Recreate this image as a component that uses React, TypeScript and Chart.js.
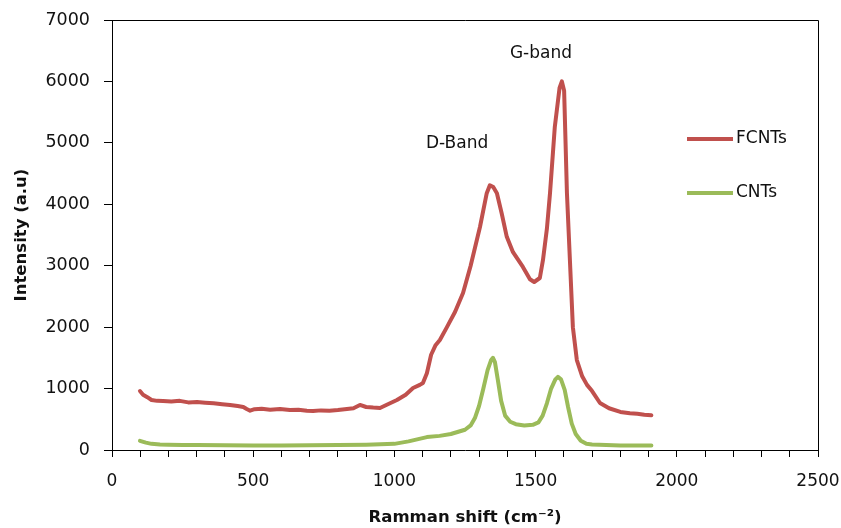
import React, { useEffect, useRef } from "react";
import { Chart, registerables } from "chart.js";

Chart.register(...registerables);

const fcntsX = [99, 110, 125, 140, 160, 181, 210, 240, 270, 301, 330, 360, 390, 418, 445, 465, 477, 489, 505, 530, 560, 595, 630, 660, 690, 712, 740, 770, 800, 832, 855, 878, 900, 925, 949, 975, 1009, 1040, 1066, 1090, 1101, 1115, 1130, 1145, 1161, 1186, 1215, 1243, 1270, 1303, 1327, 1338, 1350, 1363, 1380, 1398, 1420, 1455, 1480, 1495, 1515, 1526, 1540, 1551, 1568, 1585, 1593, 1601, 1611, 1632, 1646, 1665, 1682, 1700, 1728, 1760, 1800, 1834, 1860, 1885, 1910];
const fcntsY = [960, 900, 860, 814, 800, 798, 790, 800, 775, 781, 770, 760, 745, 733, 715, 700, 667, 640, 665, 670, 655, 667, 650, 655, 640, 635, 645, 640, 650, 667, 680, 733, 700, 690, 684, 740, 814, 900, 1009, 1060, 1090, 1250, 1550, 1700, 1790, 2000, 2250, 2555, 3000, 3630, 4180, 4310, 4280, 4180, 3850, 3470, 3220, 2980, 2780, 2735, 2800, 3090, 3600, 4180, 5260, 5900, 6000, 5850, 4180, 2000, 1465, 1200, 1060, 960, 765, 680, 620, 600, 590, 575, 565];

const cntsX = [99, 120, 140, 170, 200, 250, 300, 400, 500, 600, 700, 800, 900, 1000, 1050, 1115, 1160, 1200, 1250, 1270, 1285, 1300, 1315, 1330, 1342, 1349, 1356, 1366, 1378, 1392, 1410, 1430, 1460, 1490, 1510, 1525, 1540, 1555, 1570, 1579, 1590, 1603, 1615, 1628, 1642, 1660, 1680, 1700, 1750, 1800, 1850, 1910];
const cntsY = [150, 120, 100, 90, 85, 80, 80, 78, 75, 75, 78, 80, 85, 100, 140, 210, 230, 260, 330, 400, 520, 720, 1000, 1300, 1460, 1500, 1430, 1150, 800, 560, 460, 420, 400, 410, 450, 560, 760, 1000, 1150, 1190, 1150, 980, 700, 430, 260, 150, 100, 90, 80, 75, 75, 75];

const xTicks = [0, 500, 1000, 1500, 2000, 2500];
const yTicks = [0, 1000, 2000, 3000, 4000, 5000, 6000, 7000];
const seriesNames = ["FCNTs", "CNTs"];
const seriesColors = ["#C0504D", "#9BBB59"];
const annotations = [
  { text: "D-Band", x: 1222, y: 4990 },
  { text: "G-band", x: 1519, y: 6460 },
];

const FONT = "'DejaVu Sans', sans-serif";

export default function App() {
  const ref = useRef<HTMLCanvasElement | null>(null);
  useEffect(() => {
    if (!ref.current) return;
    const boxPlugin = {
      id: "boxAndLabels",
      afterDraw(chart: any) {
        const { ctx, chartArea, scales } = chart;
        ctx.save();
        ctx.strokeStyle = "#000";
        ctx.lineWidth = 1;
        ctx.beginPath();
        ctx.moveTo(chartArea.left, chartArea.top + 0.5);
        ctx.lineTo(chartArea.right + 0.5, chartArea.top + 0.5);
        ctx.lineTo(chartArea.right + 0.5, chartArea.bottom);
        ctx.stroke();
        ctx.fillStyle = "#111";
        ctx.font = `17px ${FONT}`;
        ctx.textAlign = "center";
        ctx.textBaseline = "middle";
        annotations.forEach((a) => {
          ctx.fillText(a.text, scales.x.getPixelForValue(a.x), scales.y.getPixelForValue(a.y));
        });
        const lx = chartArea.right - 131;
        const ly = [chartArea.top + 119, chartArea.top + 173];
        seriesNames.forEach((n, i) => {
          ctx.strokeStyle = seriesColors[i];
          ctx.lineWidth = 4;
          ctx.beginPath();
          ctx.moveTo(lx, ly[i]);
          ctx.lineTo(lx + 46, ly[i]);
          ctx.stroke();
          ctx.textAlign = "left";
          ctx.fillText(n, lx + 49, ly[i]);
        });
        ctx.restore();
      },
    };
    const chart = new Chart(ref.current, {
      type: "line",
      data: {
        datasets: [
          {
            label: seriesNames[0],
            data: fcntsX.map((x, i) => ({ x, y: fcntsY[i] })),
            borderColor: seriesColors[0],
            borderWidth: 4,
            pointRadius: 0,
            tension: 0,
            borderJoinStyle: "round",
            borderCapStyle: "round",
          },
          {
            label: seriesNames[1],
            data: cntsX.map((x, i) => ({ x, y: cntsY[i] })),
            borderColor: seriesColors[1],
            borderWidth: 4,
            pointRadius: 0,
            tension: 0,
            borderJoinStyle: "round",
            borderCapStyle: "round",
          },
        ],
      },
      plugins: [boxPlugin],
      options: {
        animation: false,
        responsive: false,
        layout: { padding: { top: 20, right: 23, left: 0, bottom: 0 } },
        plugins: { legend: { display: false }, tooltip: { enabled: false } },
        scales: {
          x: {
            type: "linear",
            min: 0,
            max: 2500,
            afterBuildTicks(scale: any) {
              const t = [];
              for (let v = 0; v <= 2500; v += 100) t.push({ value: v });
              scale.ticks = t;
            },
            afterFit(scale: any) {
              scale.height = 78;
              scale.paddingLeft = 0;
              scale.paddingRight = 0;
            },
            ticks: {
              autoSkip: false,
              maxRotation: 0,
              color: "#111",
              font: { size: 17, family: FONT },
              padding: 14,
              callback: (v: any) => (xTicks.includes(Number(v)) ? String(v) : ""),
            },
            grid: { drawOnChartArea: false, color: "#000", tickLength: 7 },
            border: { color: "#000", width: 1 },
            title: {
              display: true,
              text: "Ramman shift (cm⁻²)",
              color: "#111",
              font: { size: 16.5, weight: "bold", family: FONT },
              padding: { top: 3, bottom: 0 },
            },
          },
          y: {
            type: "linear",
            min: 0,
            max: 7000,
            afterBuildTicks(scale: any) {
              scale.ticks = yTicks.map((v) => ({ value: v }));
            },
            afterFit(scale: any) {
              scale.width = 112;
              scale.paddingTop = 0;
              scale.paddingBottom = 0;
            },
            ticks: {
              color: "#111",
              font: { size: 17.5, family: FONT },
              padding: 14,
              callback: (v: any) => String(v),
            },
            grid: { drawOnChartArea: false, color: "#000", tickLength: 8 },
            border: { color: "#000", width: 1 },
            title: {
              display: true,
              text: "Intensity (a.u)",
              color: "#111",
              font: { size: 16.5, weight: "bold", family: FONT },
              padding: { top: 12, bottom: 0 },
            },
          },
        },
      } as any,
    });
    return () => chart.destroy();
  }, []);
  return (
    <div style={{ position: "fixed", left: 0, top: 0, width: 841, height: 528, background: "#fff" }}>
      <canvas ref={ref} width={841} height={528} style={{ width: 841, height: 528 }} />
    </div>
  );
}
